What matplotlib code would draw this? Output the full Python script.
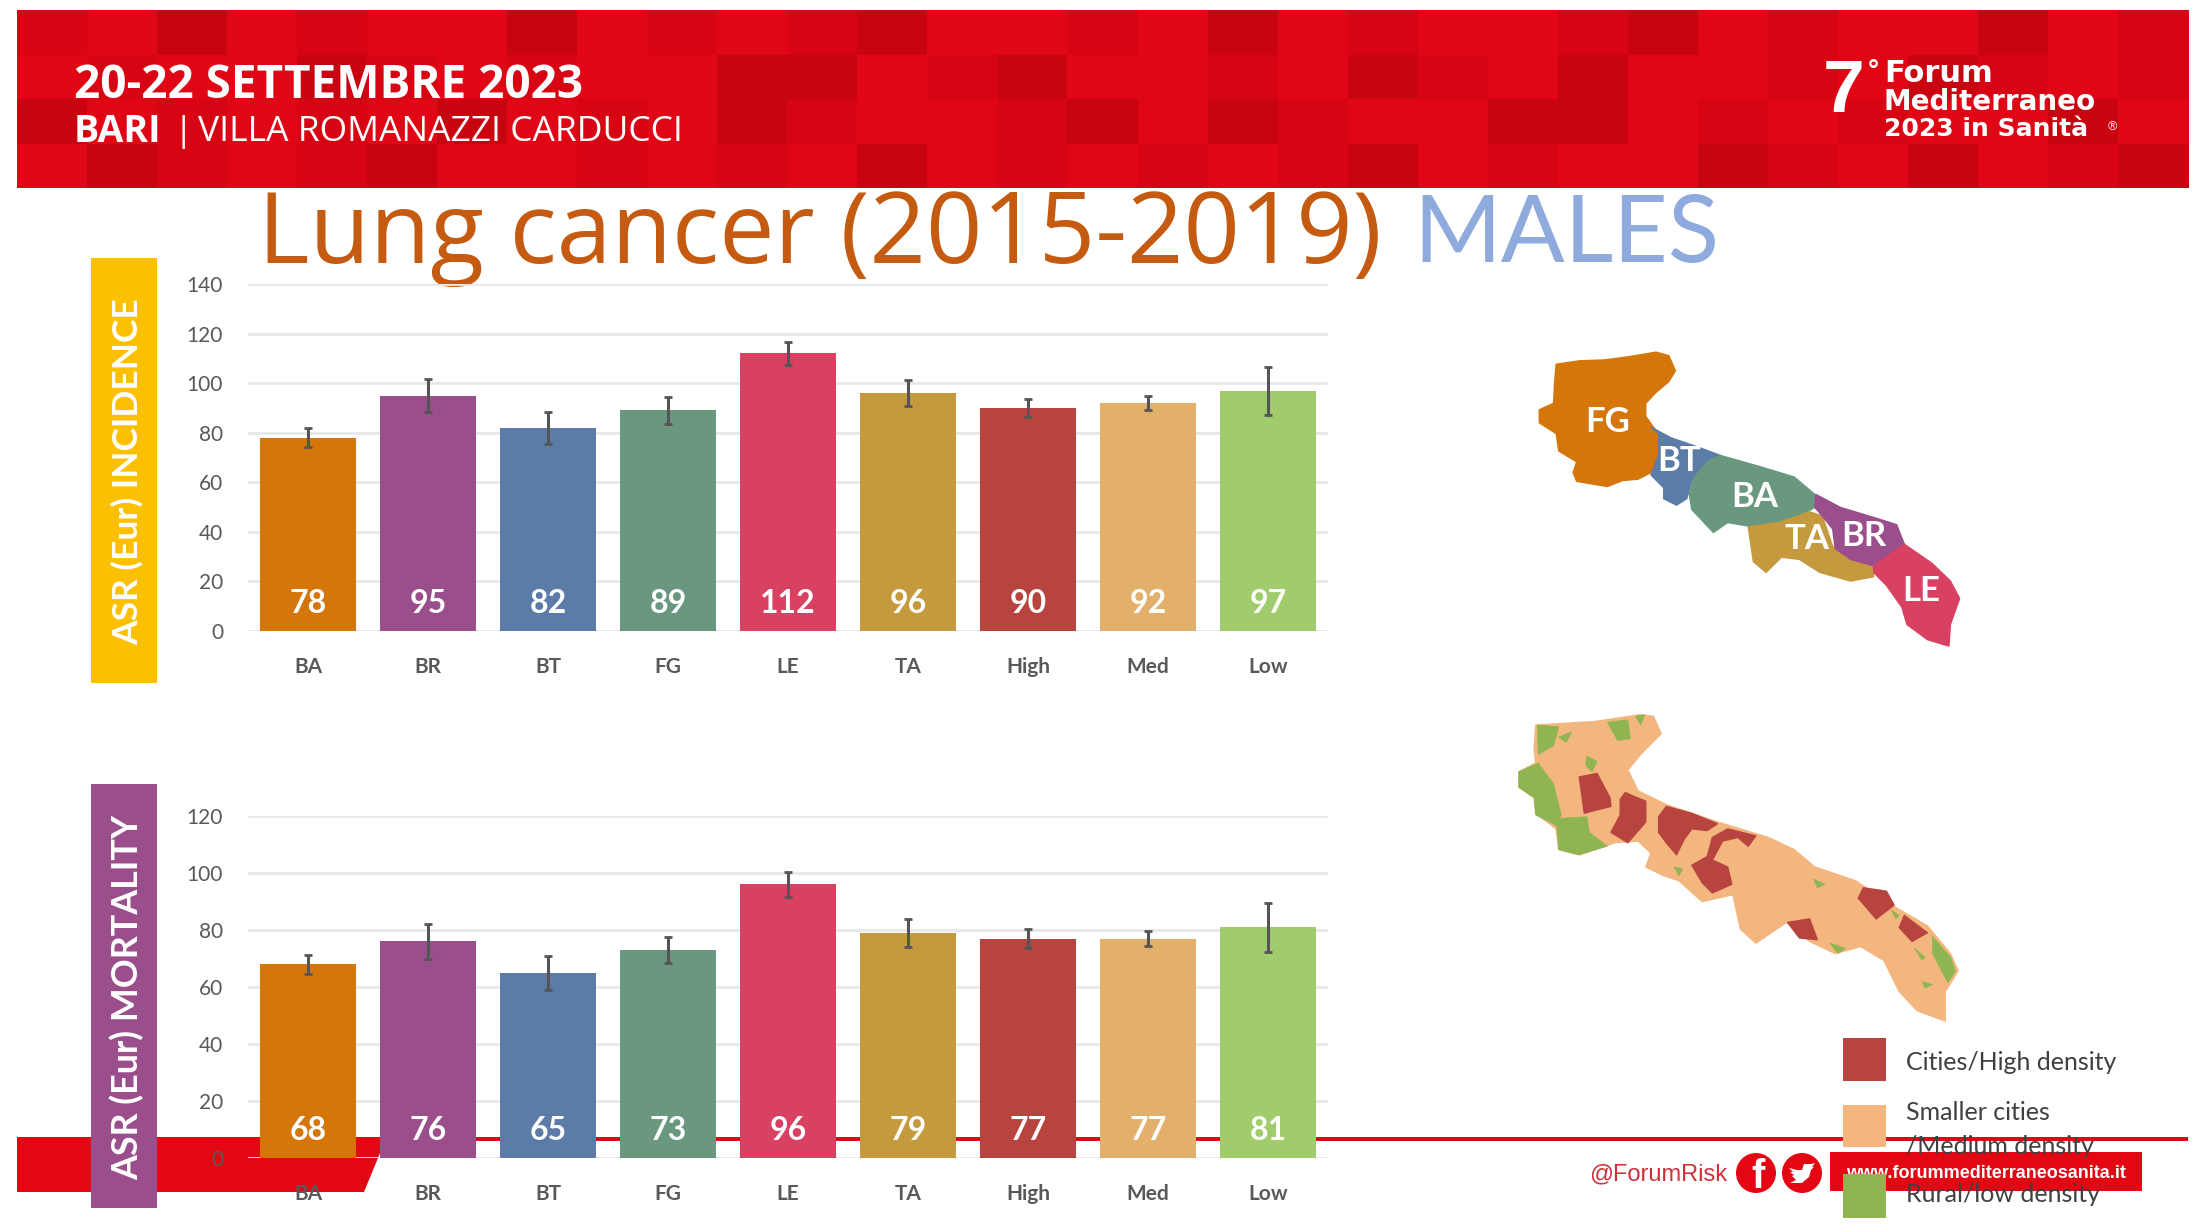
import matplotlib
matplotlib.use("Agg")
import matplotlib.pyplot as plt
from matplotlib.patches import Polygon, Rectangle, Circle
import numpy as np

W, H = 2203, 1225

# Data
categories = ['BA', 'BR', 'BT', 'FG', 'LE', 'TA', 'High', 'Med', 'Low']
incidence = [78, 95, 82, 89, 112, 96, 90, 92, 97]
incidence_err = [3.8, 6.5, 6.5, 5.3, 4.8, 5.4, 3.7, 2.8, 9.7]
mortality = [68, 76, 65, 73, 96, 79, 77, 77, 81]
mortality_err = [3.4, 6.0, 6.0, 4.7, 4.4, 5.0, 3.2, 2.5, 8.6]
bar_colors = ['#d5760b', '#9a4e8b', '#5b7ca8', '#69987f', '#d94163',
              '#c59a3e', '#b8443f', '#e2b06a', '#a1cc6b']
incidence_ticks = [0, 20, 40, 60, 80, 100, 120, 140]
mortality_ticks = [0, 20, 40, 60, 80, 100, 120]

# Banner tiles, dark = '#', mid = '+', plain = '.'
banner_rows = [
    '+.#.+..#.+.+#..+.#.+..+#.+..#.+',
    '.+..#+.+..##.+#..+.#+.#..+.#+.+',
    '#.+.+.#.+.#+..+#.#+..##.+.+..#.',
    '.#+.+#..+.+.#.+.+.+#.+..#+.#.+#',
]
banner_shades = {'#': '#c80411', '+': '#d70513', '.': '#e00615'}

# Region map outlines, read from a 1.953 x 2.306 zoom of the picture
region_scale = (1400, 0, 1.953, 2.306)
regions = {
    'FG': ('#d5760b', [(305, 840), (350, 832), (400, 830), (450, 822), (500, 812), (525, 820), (538, 855), (525, 880),
                       (500, 905), (480, 930), (480, 960), (495, 985), (505, 1000), (505, 1050), (490, 1090),
                       (465, 1105), (435, 1108), (405, 1122), (370, 1115), (345, 1110), (338, 1090), (345, 1065),
                       (310, 1040), (305, 1000), (272, 975), (272, 945), (300, 930), (302, 880)]),
    'BT': ('#5b7ca8', [(490, 985), (530, 1010), (580, 1030), (625, 1050), (600, 1070), (570, 1110), (560, 1150),
                       (540, 1165), (515, 1150), (515, 1125), (490, 1095), (505, 1050), (505, 1000)]),
    'BA': ('#69987f', [(625, 1050), (700, 1075), (770, 1100), (810, 1140), (810, 1170), (780, 1190), (740, 1210),
                       (690, 1215), (640, 1205), (612, 1228), (570, 1175), (565, 1140), (575, 1100), (600, 1065)]),
    'TA': ('#c59a3e', [(680, 1215), (740, 1205), (800, 1180), (825, 1190), (845, 1260), (880, 1290), (925, 1305),
                       (925, 1330), (880, 1340), (820, 1320), (780, 1290), (745, 1285), (715, 1320), (690, 1295)]),
    'BR': ('#9a4e8b', [(812, 1140), (860, 1170), (930, 1195), (970, 1210), (985, 1255), (925, 1305), (880, 1290),
                       (850, 1265), (845, 1220), (825, 1190), (810, 1170)]),
    'LE': ('#d94163', [(985, 1255), (1040, 1300), (1075, 1340), (1093, 1380), (1075, 1440), (1072, 1490), (1030, 1475),
                       (990, 1440), (980, 1400), (950, 1350), (925, 1320), (925, 1305)]),
}
region_labels = [('FG', 405, 972), ('BT', 545, 1062), ('BA', 692, 1145), ('TA', 795, 1242), ('BR', 905, 1237), ('LE', 1018, 1362)]

# Density map, read from a 1.953 x 2.888 zoom
density_scale = (1400, 680, 1.953, 2.888)
density_outline = [(265, 130), (380, 120), (470, 100), (495, 105), (510, 155), (470, 215), (445, 260), (465, 320),
                   (520, 360), (620, 410), (720, 455), (770, 490), (810, 540), (890, 580), (960, 650), (1030, 710),
                   (1075, 790), (1090, 840), (1065, 900), (1065, 985), (1010, 955), (975, 900), (945, 810), (900, 770),
                   (850, 790), (800, 755), (755, 700), (695, 760), (665, 720), (650, 620), (590, 640), (545, 580),
                   (515, 565), (480, 540), (490, 500), (465, 465), (420, 470), (350, 505), (310, 490), (305, 430),
                   (265, 385), (262, 340), (232, 310), (232, 265), (265, 240), (262, 200)]
density_rural = [
    [(268, 130), (310, 135), (300, 190), (270, 215)],
    [(405, 122), (445, 115), (450, 170), (425, 175)],
    [(460, 105), (478, 100), (470, 130)],
    [(232, 265), (270, 240), (300, 300), (315, 390), (305, 420), (265, 390), (262, 340), (232, 310)],
    [(305, 400), (365, 395), (370, 440), (405, 480), (350, 505), (310, 490)],
    [(365, 220), (385, 235), (375, 265), (362, 245)],
    [(310, 165), (335, 150), (325, 180)],
    [(1040, 740), (1075, 800), (1085, 840), (1070, 875), (1040, 790)],
    [(808, 575), (830, 590), (815, 600)],
    [(840, 760), (870, 775), (855, 790)],
    [(535, 540), (552, 545), (545, 565)],
    [(1005, 775), (1025, 800), (1020, 810)],
    [(1020, 870), (1040, 880), (1025, 890)],
    [(960, 665), (975, 680), (968, 690)],
]
density_city = [
    [(350, 280), (385, 270), (410, 340), (412, 365), (385, 375), (360, 385)],
    [(440, 325), (455, 335), (480, 350), (480, 410), (445, 470), (412, 440), (430, 390), (430, 345)],
    [(505, 395), (520, 365), (570, 385), (620, 415), (600, 435), (570, 430), (555, 460), (540, 505), (520, 470), (505, 440)],
    [(610, 455), (640, 430), (695, 450), (680, 480), (660, 455), (630, 465), (610, 520), (640, 540), (648, 590),
     (610, 615), (590, 585), (570, 535), (600, 510)],
    [(905, 600), (950, 610), (965, 650), (930, 690), (895, 630)],
    [(985, 680), (1030, 730), (1000, 755), (975, 715)],
    [(757, 700), (800, 690), (815, 750), (780, 745)],
]
twitter_bird = [(-13, -5), (-5, -3), (0, -3), (2, -9), (9, -9), (13, -10), (10, -6), (12, -6), (9, -3),
                (7, 4), (0, 10), (-12, 10), (-6, 7), (-10, 3), (-8, 2), (-12, -1), (-9, -1)]

legend_items = [('#b8443f', 1038, 1081), ('#f4b67f', 1105, 1147), ('#8fb552', 1174, 1218)]
legend_texts = [('Cities/High density', 1062), ('Smaller cities', 1113), ('/Medium density', 1146), ('Rural/low density', 1195)]


def to_px(points, scale):
    x0, y0, sx, sy = scale
    return [(x0 + x / sx, y0 + y / sy) for x, y in points]


def add_axes_px(fig, left, top, right, bottom, **kw):
    return fig.add_axes([left / W, 1 - bottom / H, (right - left) / W, (bottom - top) / H], **kw)


def draw_chart(fig, top, bottom, values, errors, yticks):
    ax = add_axes_px(fig, 248, top, 1328, bottom, zorder=3)
    ax.patch.set_alpha(0)
    x = np.arange(len(categories))
    ax.bar(x, values, width=0.8, color=bar_colors, zorder=2)
    ax.errorbar(x, values, yerr=errors, fmt='none', ecolor='#555555', elinewidth=2.2, capsize=3, capthick=2, zorder=3)
    for xi, v in zip(x, values):
        ax.annotate(str(v), (xi, 0), xytext=(0, 20), textcoords='offset points', ha='center', va='center',
                    color='white', fontsize=23, fontweight='bold', zorder=4)
    ax.set_xlim(-0.5, 8.5)
    ax.set_ylim(0, yticks[-1])
    ax.set_yticks(yticks)
    ax.set_xticks(x)
    ax.set_xticklabels(categories, fontsize=15, fontweight='bold', color='#595959')
    ax.tick_params(axis='x', length=0, pad=19)
    ax.tick_params(axis='y', length=0, pad=18, labelsize=15, labelcolor='#595959')
    ax.grid(axis='y', color='#e8e8e8', lw=2)
    ax.set_axisbelow(True)
    for s in ax.spines.values():
        s.set_visible(False)
    return ax


def main():
    plt.rcParams['font.family'] = ['Lato', 'DejaVu Sans']
    fig = plt.figure(figsize=(W / 100, H / 100), dpi=100, facecolor='white')
    bg = fig.add_axes([0, 0, 1, 1], zorder=1)
    bg.set_xlim(0, W)
    bg.set_ylim(H, 0)
    bg.axis('off')

    # Banner
    n_rows, n_cols = len(banner_rows), len(banner_rows[0])
    tile_w, tile_h = (2188 - 17) / n_cols, (188 - 10) / n_rows
    for r, row in enumerate(banner_rows):
        for c, ch in enumerate(row):
            bg.add_patch(Rectangle((17 + c * tile_w, 10 + r * tile_h), tile_w + 1, min(tile_h + 1, 188 - 10 - r * tile_h),
                                   fc=banner_shades[ch], ec='none', zorder=1))
    bg.text(74, 86, '20-22 SETTEMBRE 2023', color='white', fontsize=33, fontweight='bold',
            family='Open Sans', va='center', zorder=2)
    bg.text(74, 132, 'BARI', color='white', fontsize=27, fontweight='bold', family='Open Sans', va='center', zorder=2)
    bg.text(174, 132, '|', color='white', fontsize=25.5, family='Open Sans', ha='left', va='center', zorder=2)
    bg.text(198, 132, 'VILLA ROMANAZZI CARDUCCI', color='white', fontsize=25.5, family='Open Sans',
            va='center', zorder=2)
    bg.text(1823, 112, '7', color='white', fontsize=54, fontweight='bold', family='Liberation Sans', zorder=2)
    bg.text(1868, 72, '°', color='white', fontsize=20, fontweight='bold', family='Liberation Sans', va='center', zorder=2)
    for txt, y, size in [('Forum', 74, 22), ('Mediterraneo', 102, 20), ('2023 in Sanità', 129, 18)]:
        bg.text(1884, y, txt, color='white', fontsize=size, fontweight='bold', family='DejaVu Sans',
                va='center', zorder=2)
    bg.text(2108, 127, '®', color='white', fontsize=9, family='Liberation Sans', va='center', zorder=2)

    # Title
    bg.text(258, 263, 'Lung cancer (2015-2019)', color='#c55a11', fontsize=71, family='Open Sans', zorder=2)
    bg.text(1413, 262, 'MALES', color='#8faadc', fontsize=68, zorder=2)

    # Footer
    bg.add_patch(Polygon([(17, 1137), (2188, 1137), (2188, 1141), (385, 1141), (364, 1192), (17, 1192)],
                         fc='#e30613', ec='none', zorder=1))
    bg.add_patch(Rectangle((1830, 1152), 312, 39, fc='#e30613', ec='none', zorder=2))
    bg.text(1986, 1173, 'www.forummediterraneosanita.it', color='white', fontsize=13, fontweight='bold',
            family='Liberation Sans', ha='center', va='center', zorder=3)
    bg.text(1589, 1174, '@ForumRisk', color='#d0303a', fontsize=17, family='Liberation Sans', va='center', zorder=3)
    bg.add_patch(Circle((1756, 1173), 20, fc='#e30613', ec='none', zorder=3))
    bg.text(1758, 1177, 'f', color='white', fontsize=29, fontweight='bold', family='Liberation Sans',
            ha='center', va='center', zorder=4)
    bg.add_patch(Circle((1802, 1173), 20, fc='#e30613', ec='none', zorder=3))
    bg.add_patch(Polygon([(1802 + x, 1173 + y) for x, y in twitter_bird], fc='white', ec='none', zorder=4))

    # Side labels
    for top, bottom, color, label, size in [(258, 683, '#fdc000', 'ASR (Eur) INCIDENCE', 25.5),
                                            (784, 1208, '#9a4e8b', 'ASR (Eur) MORTALITY', 25.8)]:
        bg.add_patch(Rectangle((91, top), 66, bottom - top, fc=color, ec='none', zorder=4))
        bg.text(127, (top + bottom) / 2 + 1, label, color='white', fontsize=size, fontweight='bold', rotation=90,
                ha='center', va='center', zorder=5)

    # Maps
    for name, (color, outline) in regions.items():
        bg.add_patch(Polygon(to_px(outline, region_scale), fc=color, ec=color, lw=1, joinstyle='round', zorder=2))
    for name, x, y in region_labels:
        (px, py), = to_px([(x, y)], region_scale)
        bg.text(px, py, name, color='white', fontsize=25, fontweight='bold', ha='center', va='center', zorder=3)

    bg.add_patch(Polygon(to_px(density_outline, density_scale), fc='#f4b67f', ec='#f4b67f', lw=1, joinstyle='round', zorder=2))
    for poly in density_rural:
        bg.add_patch(Polygon(to_px(poly, density_scale), fc='#8fb552', ec='#8fb552', lw=0.5, joinstyle='round', zorder=3))
    for poly in density_city:
        bg.add_patch(Polygon(to_px(poly, density_scale), fc='#b8443f', ec='#b8443f', lw=1, joinstyle='round', zorder=3))

    # Legend
    for color, top, bottom in legend_items:
        bg.add_patch(Rectangle((1843, top), 43, bottom - top, fc=color, ec='none', zorder=5))
    for txt, y in legend_texts:
        bg.text(1906, y, txt, color='#404040', fontsize=18, va='center', zorder=5)

    # Charts
    draw_chart(fig, 284, 631, incidence, incidence_err, incidence_ticks)
    draw_chart(fig, 816, 1158, mortality, mortality_err, mortality_ticks)

    fig.savefig('out.png', dpi=100)
    return 0


if __name__ == "__main__":
    main()
